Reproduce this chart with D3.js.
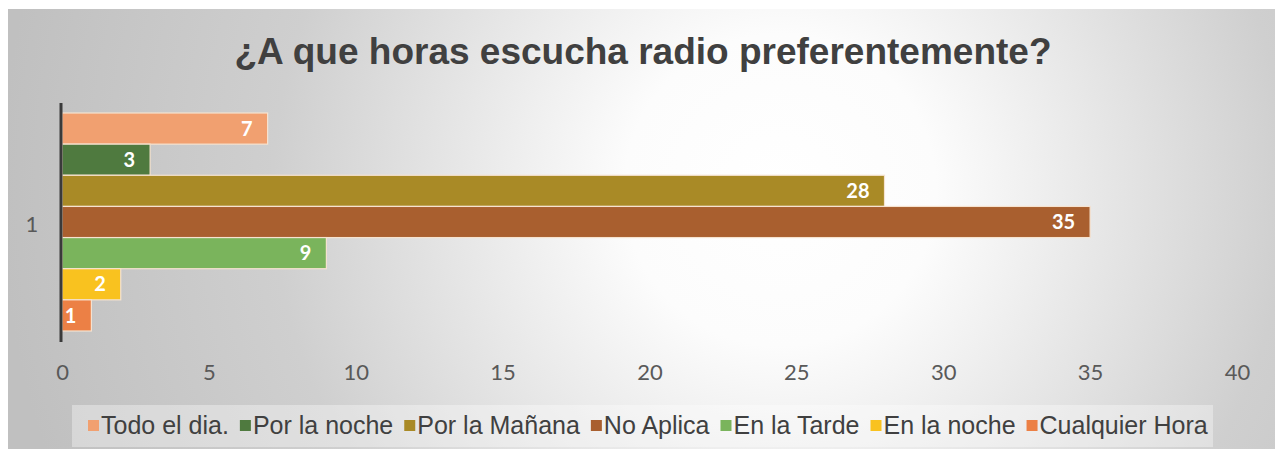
<!DOCTYPE html>
<html>
<head>
<meta charset="utf-8">
<script src="https://cdn.jsdelivr.net/npm/d3@7"></script>
<style>
    body { margin: 0; background: #ffffff; }
    svg text { font-family: "Liberation Sans", Arial, sans-serif; }
</style>
</head>
<body>
<div id="chart"></div>
<script>
//  Define width and height
var chart_width     =   1278;
var chart_height    =   451;

// Data
var categories      =   [ "Todo el dia.", "Por la noche", "Por la Mañana", "No Aplica",
                          "En la Tarde", "En la noche", "Cualquier Hora" ];
var values          =   [ 7, 3, 28, 35, 9, 2, 1 ];
var colors          =   [ "#f1a070", "#4f7a3f", "#a98a26", "#a95f2f", "#7ab45c", "#f9c21f", "#ec8045" ];
var x_ticks         =   [ 0, 5, 10, 15, 20, 25, 30, 35, 40 ];
var group_label     =   "1";
var title_text      =   "¿A que horas escucha radio preferentemente?";

// Create SVG
var svg             =   d3.select("#chart")
    .append("svg")
    .attr("width", chart_width)
    .attr("height", chart_height);

// Background gradient
var defs            =   svg.append("defs");
var grad            =   defs.append("radialGradient")
    .attr("id", "bg")
    .attr("gradientUnits", "userSpaceOnUse")
    .attr("cx", 780).attr("cy", 190).attr("r", 780);
grad.append("stop").attr("offset", "0").attr("stop-color", "#ffffff");
grad.append("stop").attr("offset", "0.2").attr("stop-color", "#fcfcfc");
grad.append("stop").attr("offset", "0.65").attr("stop-color", "#cfcfcf");
grad.append("stop").attr("offset", "1").attr("stop-color", "#c0c0c0");

svg.append("rect")
    .attr("x", 8).attr("y", 9)
    .attr("width", 1267).attr("height", 440)
    .attr("fill", "url(#bg)");

// Title
svg.append("text")
    .attr("x", 643).attr("y", 64)
    .attr("text-anchor", "middle")
    .attr("font-size", 37)
    .attr("font-weight", "bold")
    .attr("fill", "#404040")
    .text(title_text);

// Scales
var x               =   d3.scaleLinear()
    .domain([ 0, 40 ])
    .range([ 62, 1237 ]);

var y               =   d3.scaleBand()
    .domain(categories)
    .range([ 113, 331 ])
    .padding(0);

// X axis labels
var x_axis          =   svg.append("g")
    .attr("transform", "translate(0,364)")
    .call(d3.axisBottom(x).tickValues(x_ticks).tickSize(0).tickPadding(0));
x_axis.select(".domain").remove();
x_axis.selectAll("text")
    .attr("dy", "0.71em")
    .attr("font-size", 22)
    .style("font-family", "Lato, 'Open Sans', sans-serif")
    .attr("fill", "#595959");

// Bars
svg.append("g")
    .selectAll("rect")
    .data(values)
    .enter()
    .append("rect")
    .attr("x", x(0))
    .attr("y", (d, i) => y(categories[i]))
    .attr("width", d => x(d) - x(0))
    .attr("height", y.bandwidth())
    .attr("fill", (d, i) => colors[i])
    .attr("stroke", "#f6e3d0")
    .attr("stroke-width", 1.2);

// Data labels
svg.append("g")
    .selectAll("text")
    .data(values)
    .enter()
    .append("text")
    .attr("x", d => x(d) - 15)
    .attr("y", (d, i) => y(categories[i]) + y.bandwidth() / 2)
    .attr("dy", "0.36em")
    .attr("text-anchor", "end")
    .attr("font-size", 20)
    .attr("font-weight", "bold")
    .style("font-family", "Lato, 'Open Sans', sans-serif")
    .attr("fill", "#ffffff")
    .text(d => d);

// Vertical axis line
svg.append("line")
    .attr("x1", 61).attr("x2", 61)
    .attr("y1", 103).attr("y2", 342)
    .attr("stroke", "#3a3a3a")
    .attr("stroke-width", 3);

// Category label
svg.append("text")
    .attr("x", 32).attr("y", 224)
    .attr("dy", "0.36em")
    .attr("text-anchor", "middle")
    .attr("font-size", 22)
    .style("font-family", "Lato, 'Open Sans', sans-serif")
    .attr("fill", "#595959")
    .text(group_label);

// Legend
svg.append("rect")
    .attr("x", 72).attr("y", 405)
    .attr("width", 1141).attr("height", 42)
    .attr("fill", "#ffffff")
    .attr("fill-opacity", 0.35);

var legend          =   svg.append("g");
var lx              =   88;
categories.forEach(function(c, i){
    legend.append("rect")
        .attr("x", lx).attr("y", 420)
        .attr("width", 11).attr("height", 11)
        .attr("fill", colors[i]);
    var t = legend.append("text")
        .attr("x", lx + 13).attr("y", 434)
        .attr("font-size", 25)
        .attr("fill", "#404040")
        .text(c);
    lx += 13 + t.node().getComputedTextLength() + 11;
});
</script>
</body>
</html>
